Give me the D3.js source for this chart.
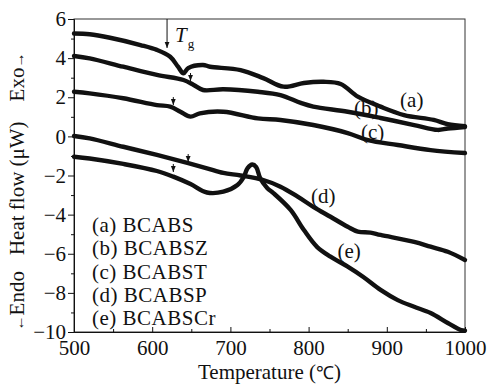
<!DOCTYPE html>
<html>
<head>
<meta charset="utf-8">
<script src="https://d3js.org/d3.v7.min.js"></script>
<style>
  body { margin: 0; background: #fff; }
  text { font-family: "Liberation Serif", "Times New Roman", serif; fill: #111; }
</style>
</head>
<body>
<script>
const width = 494
const height = 385
const fontSize = 21

// temperature (°C) readings shared by the traces
const tempA = [500, 520, 546, 585, 606, 623, 633, 640, 646, 665, 674, 713, 742, 768, 794, 819, 841, 863, 892, 922, 960, 978, 1000]
const flowA = [5.26, 5.22, 5.04, 4.67, 4.42, 4.07, 3.56, 3.22, 3.49, 3.65, 3.56, 3.39, 2.98, 2.54, 2.73, 2.79, 2.68, 2.03, 1.52, 1.09, 0.84, 0.62, 0.52]

const tempB = [500, 520, 563, 606, 640, 653, 665, 691, 735, 764, 790, 806, 850, 892, 935, 965, 978, 1000]
const flowB = [4.11, 3.99, 3.56, 3.14, 2.88, 2.63, 2.37, 2.41, 2.28, 2.11, 1.71, 1.52, 1.26, 0.94, 0.58, 0.33, 0.40, 0.48]

const tempC = [500, 520, 563, 606, 623, 636, 649, 661, 691, 735, 764, 806, 850, 876, 914, 956, 1000]
const flowC = [2.28, 2.20, 1.95, 1.60, 1.52, 1.26, 1.01, 1.18, 1.26, 0.92, 0.84, 0.58, 0.17, -0.19, -0.44, -0.70, -0.85]

const tempD = [500, 520, 563, 606, 640, 670, 691, 713, 742, 764, 786, 806, 828, 850, 863, 879, 892, 935, 956, 978, 1000]
const flowD = [0.02, -0.10, -0.53, -0.95, -1.30, -1.63, -1.87, -2.00, -2.23, -2.57, -3.08, -3.60, -4.11, -4.62, -4.87, -4.92, -5.04, -5.39, -5.64, -5.90, -6.32]

const tempE = [500, 520, 563, 606, 627, 649, 670, 691, 709, 717, 722, 728, 733, 738, 747, 755, 777, 794, 811, 828, 850, 870, 892, 914, 935, 956, 978, 995, 1000]
const flowE = [-1.04, -1.13, -1.41, -1.77, -2.06, -2.44, -2.87, -2.83, -2.49, -2.08, -1.62, -1.44, -1.57, -2.13, -2.64, -2.90, -3.76, -4.79, -5.66, -6.15, -6.66, -7.19, -7.85, -8.37, -8.71, -9.03, -9.54, -9.90, -9.93]

const seriesNames = ["(a)", "(b)", "(c)", "(d)", "(e)"]
const legendLabels = ["(a) BCABS", "(b) BCABSZ", "(c) BCABST", "(d) BCABSP", "(e) BCABSCr"]
// label anchor for each curve tag [temperature, heat flow]
const tagTemps = [917, 858, 867, 803, 837]
const tagFlows = [1.50, 1.09, -0.13, -3.41, -6.22]
// glass transition markers: temperature and heat flow at arrow tip
const tgTemps = [619, 649, 627, 646, 627]
const tgFlows = [4.52, 2.83, 1.60, -1.31, -1.82]

const xTicks = [500, 600, 700, 800, 900, 1000]
const xMinor = [550, 650, 750, 850, 950]
const yTicks = [-10, -8, -6, -4, -2, 0, 2, 4, 6]
const yMinor = [-9, -7, -5, -3, -1, 1, 3, 5]

const plotLeft = 74, plotRight = 465, plotTop = 19, plotBottom = 332

const x = d3.scaleLinear().domain([500, 1000]).range([plotLeft, plotRight])
const y = d3.scaleLinear().domain([-10, 6]).range([plotBottom, plotTop])

const svg = d3.select("body").append("svg").attr("width", width).attr("height", height)

svg.append("defs").append("marker")
    .attr("id", "head")
    .attr("viewBox", "0 0 10 10")
    .attr("refX", 10).attr("refY", 5)
    .attr("markerWidth", 6).attr("markerHeight", 6)
    .attr("markerUnits", "userSpaceOnUse")
    .attr("orient", "auto")
    .append("path").attr("d", "M0,1 L10,5 L0,9 Z").attr("fill", "#111")

// frame
svg.append("rect")
    .attr("x", plotLeft).attr("y", plotTop)
    .attr("width", plotRight - plotLeft).attr("height", plotBottom - plotTop)
    .attr("fill", "none").attr("stroke", "#333").attr("stroke-width", 1)

// axes
svg.append("g").attr("transform", `translate(0,${plotBottom})`)
    .call(d3.axisBottom(x).tickValues(xTicks).tickFormat(d3.format("d")).tickSizeInner(-5).tickSizeOuter(0).tickPadding(8))
svg.append("g").attr("transform", `translate(0,${plotBottom})`)
    .call(d3.axisBottom(x).tickValues(xMinor).tickFormat("").tickSizeInner(-3).tickSizeOuter(0))

svg.append("g").attr("transform", `translate(${plotLeft},0)`)
    .call(d3.axisLeft(y).tickValues(yTicks).tickSizeInner(6).tickSizeOuter(0).tickPadding(2))
svg.append("g").attr("transform", `translate(${plotLeft},0)`)
    .call(d3.axisLeft(y).tickValues(yMinor).tickFormat("").tickSizeInner(3).tickSizeOuter(0))

svg.selectAll(".domain").attr("stroke", "#111")
svg.selectAll(".tick line").attr("stroke", "#111")
svg.selectAll(".tick text")
    .style("font-family", "'Liberation Serif', 'Times New Roman', serif")
    .style("font-size", fontSize + "px")
    .attr("fill", "#111")

// curves
const line = d3.line().x(d => x(d[0])).y(d => y(d[1])).curve(d3.curveCatmullRom.alpha(0.5))
const series = [
    d3.zip(tempA, flowA), d3.zip(tempB, flowB), d3.zip(tempC, flowC),
    d3.zip(tempD, flowD), d3.zip(tempE, flowE)
]
svg.append("g").selectAll("path")
    .data(series)
    .enter().append("path")
    .attr("d", line)
    .attr("fill", "none")
    .attr("stroke", "#111")
    .attr("stroke-width", 4.4)
    .attr("stroke-linejoin", "round")
    .attr("stroke-linecap", "round")

// Tg markers
svg.append("line")
    .attr("x1", x(tgTemps[0])).attr("y1", plotTop)
    .attr("x2", x(tgTemps[0])).attr("y2", y(tgFlows[0]))
    .attr("stroke", "#111").attr("stroke-width", 1)
    .attr("marker-end", "url(#head)")
svg.append("g").selectAll("line")
    .data(d3.range(1, tgTemps.length))
    .enter().append("line")
    .attr("x1", i => x(tgTemps[i])).attr("y1", i => y(tgFlows[i]) - 8)
    .attr("x2", i => x(tgTemps[i])).attr("y2", i => y(tgFlows[i]))
    .attr("stroke", "#111").attr("stroke-width", 1)
    .attr("marker-end", "url(#head)")

const tg = svg.append("text")
    .attr("x", x(tgTemps[0]) + 8).attr("y", 42)
    .style("font-size", fontSize + "px")
tg.append("tspan").text("T").style("font-style", "italic")
tg.append("tspan").text("g").attr("dy", 6).attr("dx", 1).style("font-size", "13px")

// curve tags
svg.append("g").selectAll("text")
    .data(seriesNames)
    .enter().append("text")
    .attr("x", (d, i) => x(tagTemps[i]))
    .attr("y", (d, i) => y(tagFlows[i]))
    .style("font-size", fontSize + "px")
    .text(d => d)

// legend
svg.append("g").selectAll("text")
    .data(legendLabels)
    .enter().append("text")
    .attr("x", 92)
    .attr("y", (d, i) => 232 + i * 23.3)
    .style("font-size", fontSize + "px")
    .style("letter-spacing", "0.5px")
    .text(d => d)

// axis titles
const xTitle = svg.append("text")
    .attr("x", (plotLeft + plotRight) / 2).attr("y", 379)
    .attr("text-anchor", "middle")
    .style("font-size", fontSize + "px")
xTitle.append("tspan").text("Temperature (")
xTitle.append("tspan").text("℃").style("font-size", "18px")
xTitle.append("tspan").text(")")

const yTitle = svg.append("text")
    .attr("transform", `translate(24,${(plotTop + plotBottom) / 2 + 16}) rotate(-90)`)
    .attr("text-anchor", "middle")
    .style("font-size", fontSize + "px")
yTitle.append("tspan").text("←").style("font-size", "15px")
yTitle.append("tspan").text("Endo")
yTitle.append("tspan").attr("dx", 16).text("Heat flow (μW)")
yTitle.append("tspan").attr("dx", 20).text("Exo")
yTitle.append("tspan").text("→").style("font-size", "15px")
</script>
</body>
</html>
